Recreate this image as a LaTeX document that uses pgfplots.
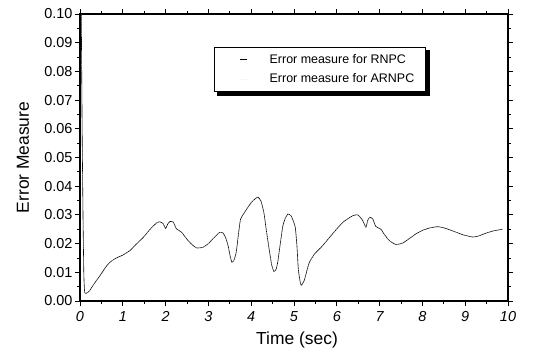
\documentclass[border=0pt]{standalone}
\usepackage{pgfplots}
\pgfplotsset{compat=1.18}
\usepackage{fontspec}
\setmainfont{Liberation Sans}
\usetikzlibrary{calc}
\pgfplotstableread{
x y
0.03 0.100
0.05 0.060
0.07 0.030
0.09 0.009
0.11 0.0030
0.15 0.0027
0.22 0.0035
0.32 0.0058
0.47 0.0089
0.60 0.0118
0.70 0.0135
0.85 0.0150
1.00 0.0160
1.17 0.0176
1.30 0.0196
1.48 0.0222
1.65 0.0252
1.79 0.0272
1.86 0.0276
1.94 0.0270
2.00 0.0253
2.05 0.0268
2.10 0.0277
2.18 0.0275
2.25 0.0252
2.37 0.0240
2.50 0.0215
2.60 0.0199
2.72 0.0185
2.87 0.0187
3.00 0.0200
3.10 0.0216
3.26 0.0239
3.34 0.0237
3.40 0.0222
3.46 0.0193
3.51 0.0155
3.55 0.0135
3.60 0.0143
3.65 0.0170
3.70 0.0230
3.75 0.0284
3.85 0.0310
4.00 0.0343
4.10 0.0357
4.16 0.0362
4.23 0.0348
4.30 0.0305
4.35 0.0250
4.43 0.0170
4.48 0.0125
4.53 0.0103
4.58 0.0110
4.62 0.0135
4.68 0.0200
4.74 0.0262
4.80 0.0290
4.86 0.0303
4.93 0.0297
4.98 0.0280
5.03 0.0257
5.07 0.0190
5.10 0.0112
5.14 0.0070
5.17 0.0054
5.24 0.0072
5.30 0.0105
5.36 0.0135
5.48 0.0164
5.67 0.0193
5.90 0.0234
6.14 0.0274
6.37 0.0297
6.49 0.0300
6.60 0.0282
6.68 0.0257
6.72 0.0280
6.77 0.0292
6.84 0.0286
6.91 0.0260
7.03 0.0250
7.12 0.0230
7.23 0.0210
7.38 0.0197
7.54 0.0202
7.70 0.0218
7.85 0.0234
8.00 0.0246
8.16 0.0254
8.35 0.0259
8.50 0.0255
8.62 0.0249
8.80 0.0239
8.94 0.0231
9.17 0.0223
9.30 0.0226
9.48 0.0236
9.65 0.0244
9.87 0.0250
}\curve
\begin{document}
\begin{tikzpicture}
\begin{axis}[
  scale only axis,
  width=428bp, height=287bp,
  xmin=0, xmax=10, ymin=0, ymax=0.10,
  xtick={0,1,...,10},
  minor x tick num=1,
  ytick={0,0.01,...,0.10},
  minor y tick num=1,
  tick align=outside,
  major tick length=5bp,
  minor tick length=3bp,
  axis line style={line width=1.1pt},
  every tick/.style={black, line width=0.9pt},
  scaled y ticks=false,
  yticklabel style={/pgf/number format/.cd, fixed, fixed zerofill, precision=2, /tikz/.cd, font=\fontsize{14.5}{14.5}\selectfont, xshift=1bp},
  xticklabel style={font=\fontsize{14.5}{14.5}\selectfont\itshape, yshift=-2bp},
  /pgf/number format/assume math mode=true,
  xlabel={Time (sec)},
  ylabel={Error Measure},
  xlabel style={at={(axis description cs:0.507,-0.136)}, anchor=center, font=\fontsize{17.5}{17.5}\selectfont},
  ylabel style={at={(axis description cs:-0.133,0.5)}, anchor=center, font=\fontsize{17.5}{17.5}\selectfont},
  legend style={
    name=leg,
    at={(axis description cs:0.313,0.885)}, anchor=north west,
    draw=black, line width=0.8pt, fill=white,
    font=\fontsize{12.5}{12.5}\selectfont,
    inner xsep=0bp, inner ysep=5bp, row sep=5bp,
    cells={anchor=west},
  },
  legend image code/.code={\path[draw=none] (0bp,0bp) -- (33bp,0bp); \draw[#1] (26bp,0bp) -- (33bp,0bp);},
  legend cell align=left,
]
\addplot[black, line width=0.6pt, smooth, tension=0.3] table[x=x,y=y] {\curve};
\addlegendentry{\hspace{20bp}Error measure for RNPC}
\addplot[white!92!black, line width=0.4pt, dotted, smooth, tension=0.3, forget plot] table[x=x,y=y] {\curve};
\addlegendimage{white!97!black, line width=0.3pt}
\addlegendentry{\hspace{20bp}Error measure for ARNPC\kern9bp\mbox{}}
\end{axis}
\fill[black] ($(leg.south west)+(3bp,-0.4bp)$) rectangle ($(leg.south east)+(4bp,-4bp)$);
\fill[black] ($(leg.north east)+(0.4bp,-3bp)$) rectangle ($(leg.south east)+(4bp,-4bp)$);
\pgfresetboundingbox
\path[use as bounding box] ($(current axis.south west)+(-80bp,-54bp)$) rectangle ($(current axis.north east)+(35bp,14bp)$);
\end{tikzpicture}
\end{document}
